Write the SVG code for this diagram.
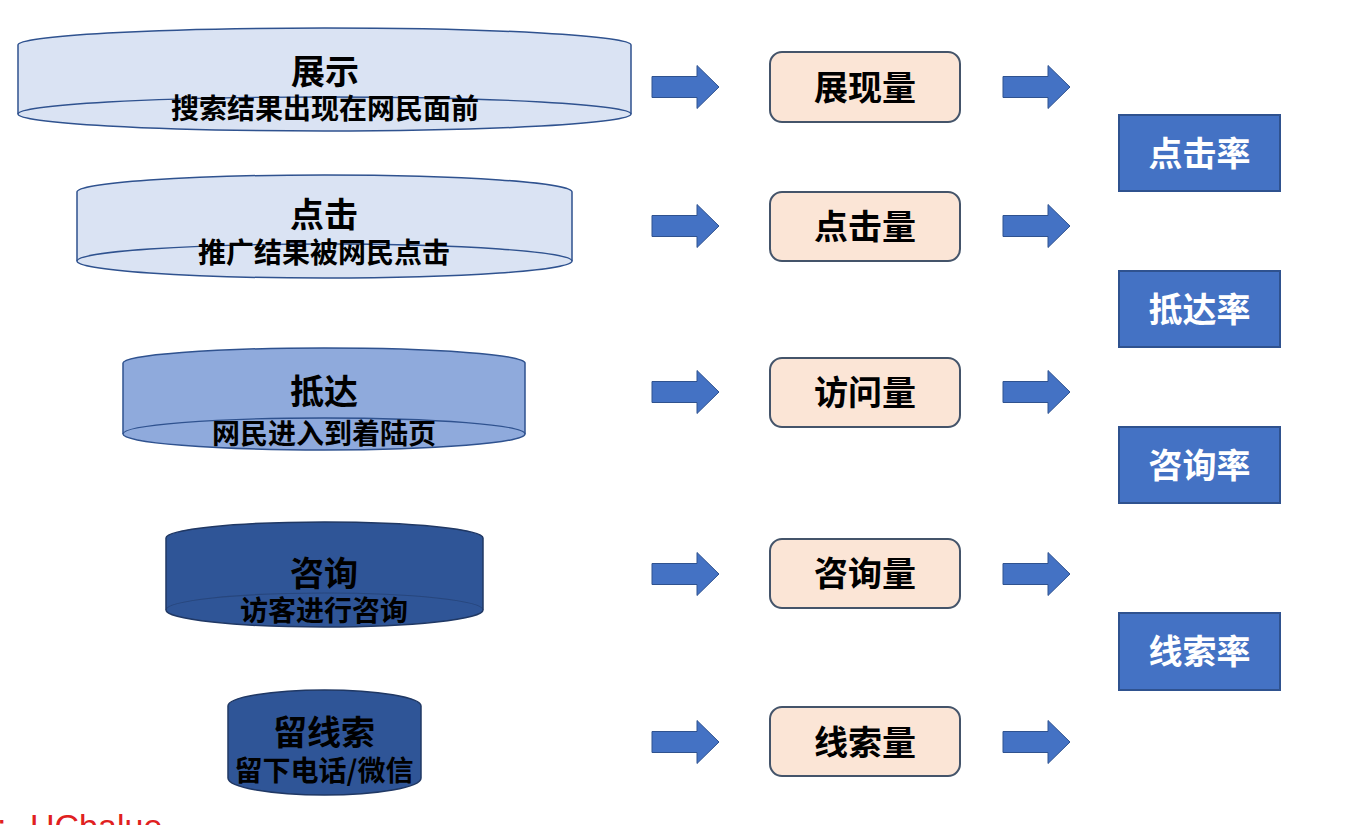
<svg xmlns="http://www.w3.org/2000/svg" xmlns:xlink="http://www.w3.org/1999/xlink" width="1368" height="825" viewBox="0 0 1368 825">
<style>
.cylL{fill:#dae3f3;stroke:#2f528f;stroke-width:1.5}
.cylM{fill:#8faadc;stroke:#2f528f;stroke-width:1.5}
.cylD{fill:#2f5597;stroke:#203864;stroke-width:1.5}
.back{fill:none;stroke:#2f528f;stroke-width:1.3}
.backD{fill:none;stroke:#203864;stroke-width:1.2;opacity:0.5}
.t{font-family:"Noto Sans CJK SC","Noto Sans",sans-serif;font-weight:bold;text-anchor:middle;fill:#000}
.title{font-size:34px}
.sub{font-size:28px}
.box{fill:#fbe5d6;stroke:#44546a;stroke-width:2}
.rate{fill:#4472c4;stroke:#2f528f;stroke-width:2}
.rt{font-family:"Noto Sans CJK SC","Noto Sans",sans-serif;font-weight:bold;text-anchor:middle;fill:#fff;font-size:34px}
.arr{fill:#4472c4;stroke:#2f528f;stroke-width:1}
</style>
<defs>
<path id="arrow" d="M0,-10.5 H45 V-21.5 L67,0 L45,21.5 V10.5 H0 Z"/>
</defs>
<rect width="1368" height="825" fill="#ffffff"/>

<g id="cyl-zhanshi">
<path class="cylL" d="M18,45 A306.5,17 0 0 1 631,45 V114 A306.5,17 0 0 1 18,114 Z"/>
<path class="back" d="M18,114 A306.5,17 0 0 1 631,114"/>
<text class="t title" x="325" y="84">展示</text>
<text class="t sub" x="325" y="119">搜索结果出现在网民面前</text>
</g>
<g id="cyl-dianji">
<path class="cylL" d="M77,192 A247.5,17 0 0 1 572,192 V261 A247.5,17 0 0 1 77,261 Z"/>
<path class="back" d="M77,261 A247.5,17 0 0 1 572,261"/>
<text class="t title" x="324" y="227">点击</text>
<text class="t sub" x="324" y="263">推广结果被网民点击</text>
</g>
<g id="cyl-dida">
<path class="cylM" d="M123,363 A201,15 0 0 1 525,363 V434 A201,16 0 0 1 123,434 Z"/>
<path class="back" d="M123,434 A201,16 0 0 1 525,434"/>
<text class="t title" x="324" y="404">抵达</text>
<text class="t sub" x="324" y="444">网民进入到着陆页</text>
</g>
<g id="cyl-zixun">
<path class="cylD" d="M166,538 A158.5,16 0 0 1 483,538 V610 A158.5,17 0 0 1 166,610 Z"/>
<path class="backD" d="M166,610 A158.5,17 0 0 1 483,610"/>
<text class="t title" x="324" y="586">咨询</text>
<text class="t sub" x="324" y="621">访客进行咨询</text>
</g>
<g id="cyl-liuxiansuo">
<path class="cylD" d="M228,706 A96.5,16 0 0 1 421,706 V778 A96.5,17 0 0 1 228,778 Z"/>
<text class="t title" x="324" y="745">留线索</text>
<text class="t sub" x="324" y="781">留下电话/微信</text>
</g>

<g id="connectors">
<use xlink:href="#arrow" class="arr" x="652" y="87"/>
<use xlink:href="#arrow" class="arr" x="652" y="226"/>
<use xlink:href="#arrow" class="arr" x="652" y="392"/>
<use xlink:href="#arrow" class="arr" x="652" y="574"/>
<use xlink:href="#arrow" class="arr" x="652" y="742"/>
<use xlink:href="#arrow" class="arr" x="1003" y="87"/>
<use xlink:href="#arrow" class="arr" x="1003" y="226"/>
<use xlink:href="#arrow" class="arr" x="1003" y="392"/>
<use xlink:href="#arrow" class="arr" x="1003" y="574"/>
<use xlink:href="#arrow" class="arr" x="1003" y="742"/>
</g>

<g id="box-zhanxianliang">
<rect class="box" x="770" y="52" width="190" height="70" rx="12"/>
<text class="t title" x="865" y="100">展现量</text>
</g>
<g id="box-dianjiliang">
<rect class="box" x="770" y="192" width="190" height="69" rx="12"/>
<text class="t title" x="865" y="239">点击量</text>
</g>
<g id="box-fangwenliang">
<rect class="box" x="770" y="358" width="190" height="69" rx="12"/>
<text class="t title" x="865" y="405">访问量</text>
</g>
<g id="box-zixunliang">
<rect class="box" x="770" y="539" width="190" height="69" rx="12"/>
<text class="t title" x="865" y="586">咨询量</text>
</g>
<g id="box-xiansuoliang">
<rect class="box" x="770" y="707" width="190" height="69" rx="12"/>
<text class="t title" x="865" y="755">线索量</text>
</g>

<g id="rate-dianjilv">
<rect class="rate" x="1119" y="115" width="161" height="76"/>
<text class="rt" x="1199.5" y="166">点击率</text>
</g>
<g id="rate-didalv">
<rect class="rate" x="1119" y="271" width="161" height="76"/>
<text class="rt" x="1199.5" y="322">抵达率</text>
</g>
<g id="rate-zixunlv">
<rect class="rate" x="1119" y="427" width="161" height="76"/>
<text class="rt" x="1199.5" y="478">咨询率</text>
</g>
<g id="rate-xiansuolv">
<rect class="rate" x="1119" y="613" width="161" height="77"/>
<text class="rt" x="1199.5" y="664">线索率</text>
</g>

<text x="-3" y="838" font-family="Liberation Sans, Arial, sans-serif" font-size="34" fill="#e02020">:<tspan x="30">UCbalue</tspan></text>
</svg>
